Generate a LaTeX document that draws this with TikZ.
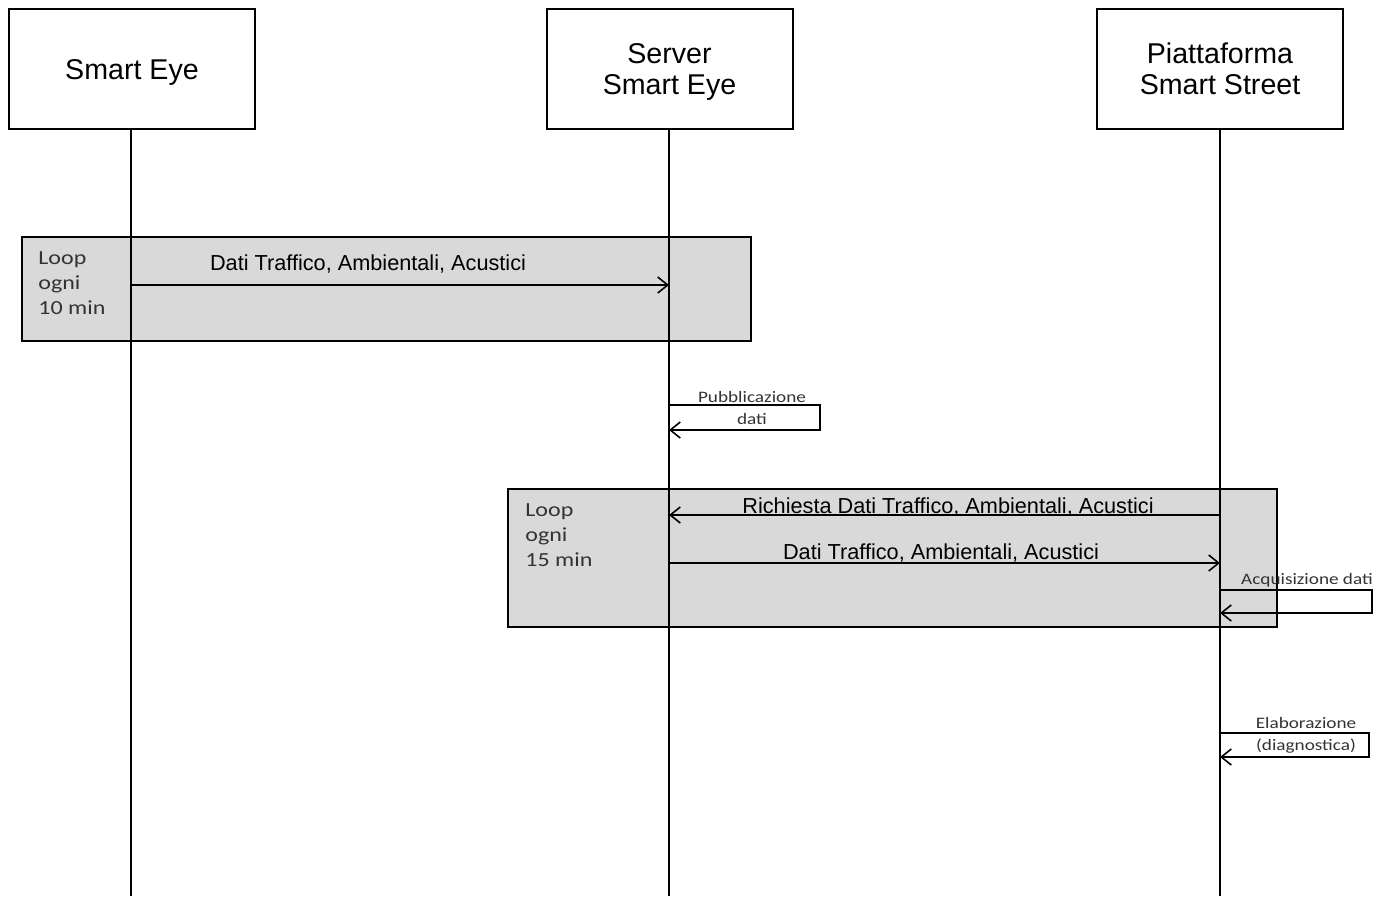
\documentclass[tikz,border=0pt]{standalone}
\usepackage{fontspec}
\setmainfont{Liberation Sans}
\newfontfamily\calib[FakeStretch=1.2]{Carlito}
\usetikzlibrary{arrows.meta,fit}
\newcommand\hdstrut{\rule{0pt}{14.9pt}}
\begin{document}
\begin{tikzpicture}[x=0.5pt,y=-0.5pt,
  actor/.style={draw, line width=1pt, fill=white, minimum width=123pt, minimum height=60pt, inner sep=0pt, align=center, font=\fontsize{14.3}{15.5}\selectfont},
  loopbox/.style={draw, line width=1pt, fill=black!15, inner sep=0pt},
  lifeline/.style={line width=1pt},
  msg/.style={line width=1pt, -{Straight Barb[length=5pt,width=8pt,line width=0.8pt]}},
  msglabel/.style={font=\fontsize{10.85}{12}\selectfont, inner sep=0pt},
  looplabel/.style={font=\calib\fontsize{10}{12.5}\selectfont, align=left, inner sep=0pt, anchor=west, text=black!80},
  selflabel/.style={font=\calib\fontsize{8}{11}\selectfont, align=center, inner sep=0pt, text=black!80},
]
\fill[white] (0,0) rectangle (1375,896);
\useasboundingbox (0,0) rectangle (1375,896);

% actors
\node[actor] (se) at (132,69) {\hdstrut Smart Eye\strut};
\node[actor] (srv) at (669.5,69) {\hdstrut Server\\\strut Smart Eye};
\node[actor] (pss) at (1220,69) {\hdstrut Piattaforma\\\strut Smart Street};

% loop fragments
\node[loopbox, fit={(22,237) (751,341)}] (loop1) {};
\node[loopbox, fit={(508,489) (1277,627)}] (loop2) {};
\node[looplabel] (l1lab) at (38,283) {Loop\\ogni\\10 min};
\node[looplabel] (l2lab) at (525,535) {Loop\\ogni\\15 min};

% lifelines
\coordinate (seEnd) at (131,896);
\coordinate (srvEnd) at (669,896);
\coordinate (pssEnd) at (1220,896);
\draw[lifeline] (se.south -| seEnd) -- (seEnd);
\draw[lifeline] (srv.south -| srvEnd) -- (srvEnd);
\draw[lifeline] (pss.south -| pssEnd) -- (pssEnd);

% message 1
\coordinate (m1a) at (131,285);
\coordinate (m1b) at (669,285);
\draw[msg] (m1a) -- (m1b);
\node[msglabel] (m1lab) at (368,264) {Dati Traffico, Ambientali, Acustici};

% self message: Pubblicazione dati
\coordinate (s1a) at (669,405);
\coordinate (s1r) at (820,430);
\coordinate (s1b) at (669,430);
\draw[msg] (s1a) -| (s1r) -- (s1b);
\node[selflabel] (s1lab) at (752,408) {Pubblicazione\\dati};

% message: Richiesta
\coordinate (m2a) at (1220,515);
\coordinate (m2b) at (669,515);
\draw[msg] (m2a) -- (m2b);
\node[msglabel] (m2lab) at (948,507) {Richiesta Dati Traffico, Ambientali, Acustici};

% message: Dati
\coordinate (m3a) at (669,563);
\coordinate (m3b) at (1220,563);
\draw[msg] (m3a) -- (m3b);
\node[msglabel] (m3lab) at (941,553) {Dati Traffico, Ambientali, Acustici};

% self message: Acquisizione dati
\coordinate (s2a) at (1220,590);
\coordinate (s2r) at (1372,613);
\coordinate (s2b) at (1220,613);
\draw[msg] (s2a) -| (s2r) -- (s2b);
\node[selflabel] (s2lab) at (1307,580) {Acquisizione dati};

% self message: Elaborazione
\coordinate (s3a) at (1220,733);
\coordinate (s3r) at (1369,757);
\coordinate (s3b) at (1220,757);
\draw[msg] (s3a) -| (s3r) -- (s3b);
\node[selflabel] (s3lab) at (1306,735) {Elaborazione\\(diagnostica)};
\end{tikzpicture}
\end{document}
